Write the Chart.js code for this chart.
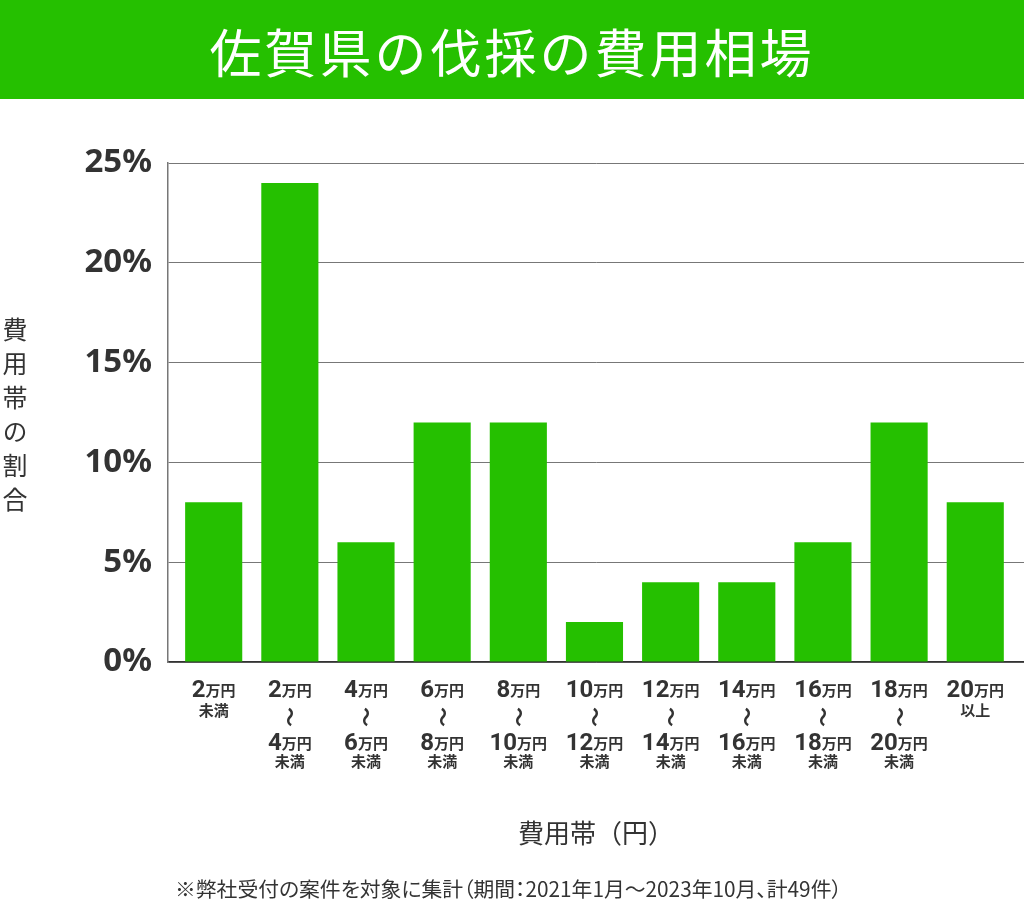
<!DOCTYPE html>
<html lang="ja">
<head>
<meta charset="utf-8">
<title>佐賀県の伐採の費用相場</title>
<script src="https://cdn.jsdelivr.net/npm/chart.js@4.4.1/dist/chart.umd.min.js"></script>
<style>
  html, body { margin: 0; padding: 0; background: #fff; }
  #wrap { position: relative; width: 1024px; height: 907px; overflow: hidden; font-family: "Noto Sans CJK JP", "Noto Sans", sans-serif; color: #333; }
  #banner { position: absolute; left: 0; top: 0; width: 1024px; height: 99px; background: #25c000; }
  #banner h1 { margin: 0; position: absolute; left: 0; right: 0; top: 51px; transform: translateY(-50%); text-align: center; color: #fff; font-size: 52px; font-weight: 400; letter-spacing: 3px; line-height: 1; }
  #chart { position: absolute; left: 0; top: 0; }
  #ytitle { position: absolute; left: 2px; top: 317px; writing-mode: vertical-rl; font-size: 25px; letter-spacing: 9px; line-height: 26px; }
  #xtitle { position: absolute; left: 0; width: 1192px; top: 832px; transform: translateY(-50%); text-align: center; font-size: 26px; line-height: 1; }
  #note { position: absolute; left: 175px; top: 888px; transform: translateY(-50%); font-size: 20.8px; line-height: 1; white-space: nowrap; font-feature-settings: "palt"; }
</style>
</head>
<body>
<div id="wrap">
  <canvas id="chart" width="1024" height="907"></canvas>
  <div id="banner"><h1>佐賀県の伐採の費用相場</h1></div>
  <div id="ytitle">費用帯の割合</div>
  <div id="xtitle">費用帯（円）</div>
  <div id="note">※弊社受付の案件を対象に集計（期間：2021年1月～2023年10月、計49件）</div>
</div>
<script>
// 費用帯（万円）と割合（%）
const rangeStart = ['2', '2', '4', '6', '8', '10', '12', '14', '16', '18', '20'];
const rangeEnd = [null, '4', '6', '8', '10', '12', '14', '16', '18', '20', null];
const rangeNote = ['未満', '未満', '未満', '未満', '未満', '未満', '未満', '未満', '未満', '未満', '以上'];
const shareValues = [8, 24, 6, 12, 12, 2, 4, 4, 6, 12, 8];
const yTicks = [0, 5, 10, 15, 20, 25];

const barColor = '#25c000';
const textColor = '#333';

// 「2万円」のように数字と単位を大きさを変えて描く
function drawAmount(ctx, num, cx, baseY) {
  const numFont = 'bold 24px Roboto, "Noto Sans", sans-serif';
  const unitFont = 'bold 15px "Noto Sans CJK JP", sans-serif';
  ctx.font = numFont;
  const wNum = ctx.measureText(num).width;
  ctx.font = unitFont;
  const wUnit = ctx.measureText('万円').width;
  const left = cx - (wNum + wUnit) / 2;
  ctx.textAlign = 'left';
  ctx.textBaseline = 'alphabetic';
  ctx.font = numFont;
  ctx.fillText(num, left, baseY);
  ctx.font = unitFont;
  ctx.fillText('万円', left + wNum, baseY - 1);
}

// x軸の費用帯ラベル
const rangeLabels = {
  id: 'rangeLabels',
  afterDraw(chart) {
    const ctx = chart.ctx;
    const x = chart.scales.x;
    ctx.save();
    ctx.fillStyle = textColor;
    rangeStart.forEach((from, i) => {
      const cx = x.getPixelForValue(i);
      drawAmount(ctx, from, cx, 697);
      ctx.textAlign = 'center';
      ctx.textBaseline = 'middle';
      ctx.font = 'bold 15px "Noto Sans CJK JP", sans-serif';
      if (rangeEnd[i]) {
        // 縦向きの波線
        ctx.save();
        ctx.translate(cx, 717);
        ctx.rotate(Math.PI / 2);
        ctx.font = 'bold 20px "Noto Sans CJK JP", sans-serif';
        ctx.fillText('〜', 0, 0);
        ctx.restore();
        drawAmount(ctx, rangeEnd[i], cx, 750);
        ctx.textAlign = 'center';
        ctx.textBaseline = 'middle';
        ctx.font = 'bold 15px "Noto Sans CJK JP", sans-serif';
        ctx.fillText(rangeNote[i], cx, 761);
      } else {
        ctx.fillText(rangeNote[i], cx, 710);
      }
    });
    ctx.restore();
  }
};

const points = shareValues.map((v, i) => ({ x: i, y: v }));

new Chart(document.getElementById('chart').getContext('2d'), {
  type: 'bar',
  data: {
    datasets: [{
      data: points,
      backgroundColor: barColor,
      borderWidth: 0,
      barPercentage: 0.75,
      categoryPercentage: 1
    }]
  },
  options: {
    responsive: false,
    devicePixelRatio: 1,
    animation: false,
    layout: { padding: { top: 163, left: 0, right: 0, bottom: 0 } },
    plugins: {
      legend: { display: false },
      tooltip: { enabled: false },
      title: { display: false }
    },
    scales: {
      x: {
        type: 'linear',
        offset: false,
        min: -0.6,
        max: 10.64,
        afterBuildTicks(scale) { scale.ticks = rangeStart.map((_, i) => ({ value: i })); },
        grid: { display: false, drawTicks: false },
        border: { display: true, color: '#333', width: 1.5 },
        ticks: { display: false },
        afterFit(scale) { scale.height = 245; }
      },
      y: {
        min: 0,
        max: 25,
        afterBuildTicks(scale) { scale.ticks = yTicks.map(v => ({ value: v })); },
        grid: { color: '#777', lineWidth: 1, drawTicks: false },
        border: { display: true, color: '#777', width: 1.5 },
        ticks: {
          padding: 16,
          color: textColor,
          font: { family: '"Noto Sans", sans-serif', size: 33, weight: 'bold' },
          callback: v => v + '%'
        },
        afterFit(scale) { scale.width = 168; }
      }
    }
  },
  plugins: [rangeLabels]
});
</script>
</body>
</html>
